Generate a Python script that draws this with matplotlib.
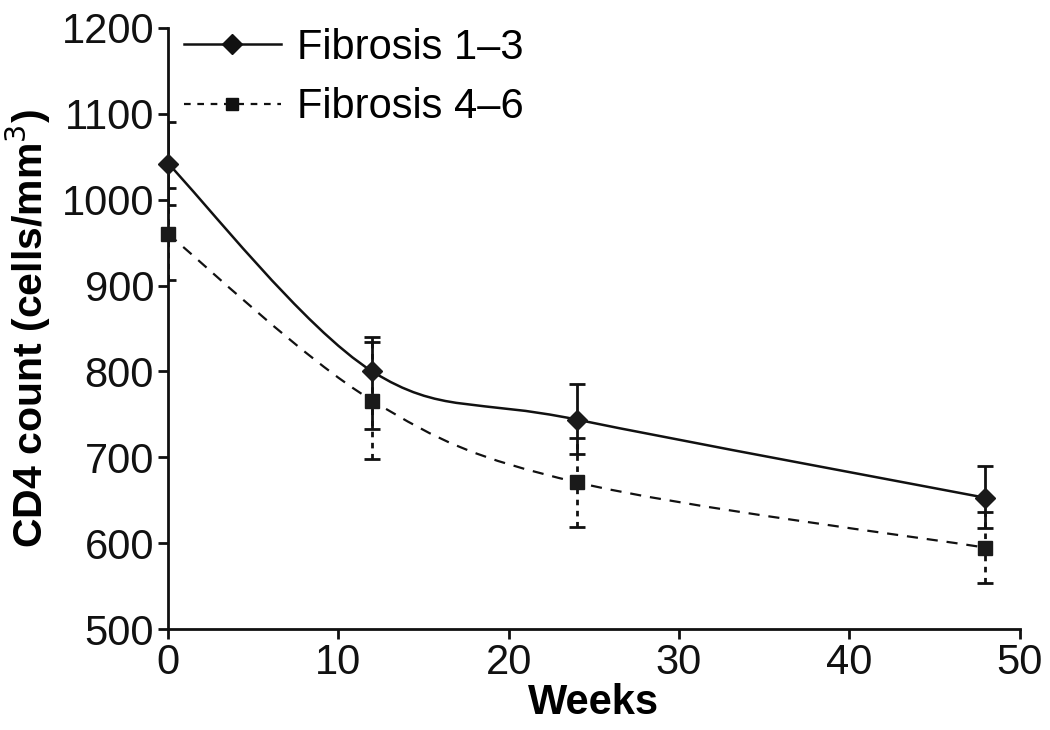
import matplotlib
matplotlib.use("Agg")
import matplotlib.pyplot as plt
import numpy as np
from matplotlib.path import Path
from matplotlib.patches import PathPatch
from matplotlib.lines import Line2D

plt.rcParams['font.family'] = ['Liberation Sans', 'DejaVu Sans']

weeks = [0, 12, 24, 48]

# Fibrosis 1-3
f13 = [1042, 800, 744, 653]
f13_err_lo = [48, 67, 40, 35]
f13_err_hi = [48, 40, 41, 37]

# Fibrosis 4-6
f46 = [960, 766, 671, 595]
f46_err_lo = [54, 68, 52, 41]
f46_err_hi = [54, 68, 52, 41]

labels = ['Fibrosis 1\u20133', 'Fibrosis 4\u20136']


def smooth_path(x, y):
    # Catmull-Rom style bezier through the points (like a "smoothed line")
    x = np.asarray(x, float)
    y = np.asarray(y, float)
    verts = [(x[0], y[0])]
    codes = [Path.MOVETO]
    n = len(x)
    for i in range(n - 1):
        i0 = max(i - 1, 0)
        i3 = min(i + 2, n - 1)
        c1 = (x[i] + (x[i + 1] - x[i0]) / 6, y[i] + (y[i + 1] - y[i0]) / 6)
        c2 = (x[i + 1] - (x[i3] - x[i]) / 6, y[i + 1] - (y[i3] - y[i]) / 6)
        verts += [c1, c2, (x[i + 1], y[i + 1])]
        codes += [Path.CURVE4] * 3
    return Path(verts, codes)


fig = plt.figure(figsize=(10.5, 7.3), dpi=100)
ax = fig.add_axes([0.160, 0.138, 0.811, 0.824])

# smoothed lines
ax.add_patch(PathPatch(smooth_path(weeks, f46), fill=False, lw=1.6,
                       ls=(0, (5, 4)), ec='#111111', zorder=2))
ax.add_patch(PathPatch(smooth_path(weeks, f13), fill=False, lw=1.8,
                       ls='-', ec='#111111', zorder=2))

# error bars
eb46 = ax.errorbar(weeks, f46, yerr=[f46_err_lo, f46_err_hi], fmt='none',
                   ecolor='#111111', elinewidth=2, capsize=6, capthick=2, zorder=3)
eb46[2][0].set_linestyle((0, (2, 2)))
ax.errorbar(weeks, f13, yerr=[f13_err_lo, f13_err_hi], fmt='none',
            ecolor='#111111', elinewidth=2, capsize=6, capthick=2, zorder=4)

# markers
ax.plot(weeks, f46, ls='none', marker='s', ms=9.5, color='#1a1a1a',
        clip_on=False, zorder=5)
ax.plot(weeks, f13, ls='none', marker='D', ms=10.5, color='#1a1a1a',
        clip_on=False, zorder=6)

ax.set_xlim(0, 50)
ax.set_ylim(500, 1200)
ax.set_xticks(range(0, 51, 10))
ax.set_yticks(range(500, 1201, 100))

for s in ['top', 'right']:
    ax.spines[s].set_visible(False)
for s in ['left', 'bottom']:
    ax.spines[s].set_linewidth(2)
    ax.spines[s].set_color('#111111')
ax.tick_params(direction='out', length=7, width=2, colors='#111111',
               labelsize=30, pad=3)

ax.set_xlabel('Weeks', fontsize=30, fontweight='bold', labelpad=0)
ax.set_ylabel('CD4 count (cells/mm$^3$)', fontsize=29.5, fontweight='bold',
              labelpad=6)

handles = [
    Line2D([], [], color='#111111', lw=1.8, marker='D', ms=10),
    Line2D([], [], color='#111111', lw=1.6, ls=(0, (3, 3)), marker='s', ms=8),
]
ax.legend(handles, labels, loc='upper left', bbox_to_anchor=(-0.016, 1.048),
          frameon=False, fontsize=30, handlelength=2.33, handletextpad=0.4,
          labelspacing=0.46, borderaxespad=0.3)

fig.savefig('out.png', dpi=100)
